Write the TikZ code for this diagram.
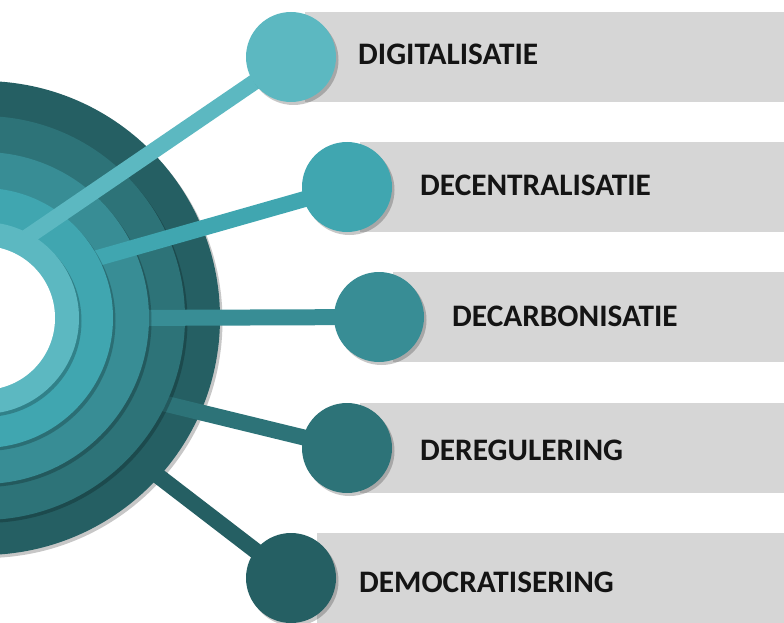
\documentclass[tikz,border=0pt]{standalone}
\usepackage{fontspec}
\newfontfamily\labelfont{Carlito}
\usetikzlibrary{shadows}
\pgfdeclarelayer{back}
\pgfsetlayers{back,main}
\definecolor{ringA}{HTML}{5CB8C1}
\definecolor{ringB}{HTML}{40A6B0}
\definecolor{ringC}{HTML}{388D95}
\definecolor{ringD}{HTML}{2D7378}
\definecolor{ringE}{HTML}{255F63}
\definecolor{band}{HTML}{D6D6D6}
\tikzset{
  soft shadow/.style={drop shadow={shadow xshift=2.5pt, shadow yshift=-3pt, opacity=0.22, fill=black}},
  bubble/.style={circle, inner sep=0pt, minimum size=90pt, soft shadow},
  stem/.style={line width=16pt},
  labeltext/.style={font=\labelfont\bfseries\fontsize{31.3}{31.3}\selectfont, text=black!92, inner sep=0pt, anchor=base west},
}
\begin{document}
\begin{tikzpicture}[x=1pt, y=-1pt]
			\useasboundingbox (0,0) rectangle (784,623);
			\clip (0,0) rectangle (784,623);
			% bubbles
			\node[bubble, fill=ringA] (b1) at (291,57) {};
			\node[bubble, fill=ringB] (b2) at (347,187) {};
			\node[bubble, fill=ringC] (b3) at (379,317) {};
			\node[bubble, fill=ringD] (b4) at (347,448) {};
			\node[bubble, fill=ringE] (b5) at (291,578) {};
			% labels
			\node[labeltext] (t1) at (358,65) {DIGITALISATIE};
			\node[labeltext] (t2) at (420,195) {DECENTRALISATIE};
			\node[labeltext] (t3) at (452,326) {DECARBONISATIE};
			\node[labeltext] (t4) at (420,460) {DEREGULERING};
			\node[labeltext] (t5) at (359,592) {DEMOCRATISERING};
			\begin{pgfonlayer}{back}
			% grey bands behind the bubbles
			\fill[band] (305,12) rectangle (784,102);
			\fill[band] (360,142) rectangle (784,232);
			\fill[band] (393,272) rectangle (784,362);
			\fill[band] (360,403) rectangle (784,493);
			\fill[band] (317,533) rectangle (784,623);
			% rings and stems
			\coordinate (ctr) at (-17,318);
			\coordinate (s1) at (20,242);
			\coordinate (s2) at (80,263);
			\coordinate (s3) at (120,318);
			\coordinate (s4) at (150,400);
			\coordinate (s5) at (140,462);
			\fill[ringE, soft shadow] (ctr) circle (237);
			\draw[stem, ringE] (s5) -- (b5.center);
			\draw[stem, ringD] (s4) -- (b4.center);
			\fill[ringD, soft shadow] (ctr) circle (202);
			\draw[stem, ringC] (s3) -- (b3.center);
			\fill[ringC, soft shadow] (ctr) circle (166);
			\draw[stem, ringB] (s2) -- (b2.center);
			\fill[ringB, soft shadow] (ctr) circle (130);
			\draw[stem, ringA] (s1) -- (b1.center);
			\fill[ringA, soft shadow] (ctr) circle (96);
			\fill[white] (ctr) circle (72);
			\end{pgfonlayer}
		\end{tikzpicture}
\end{document}
